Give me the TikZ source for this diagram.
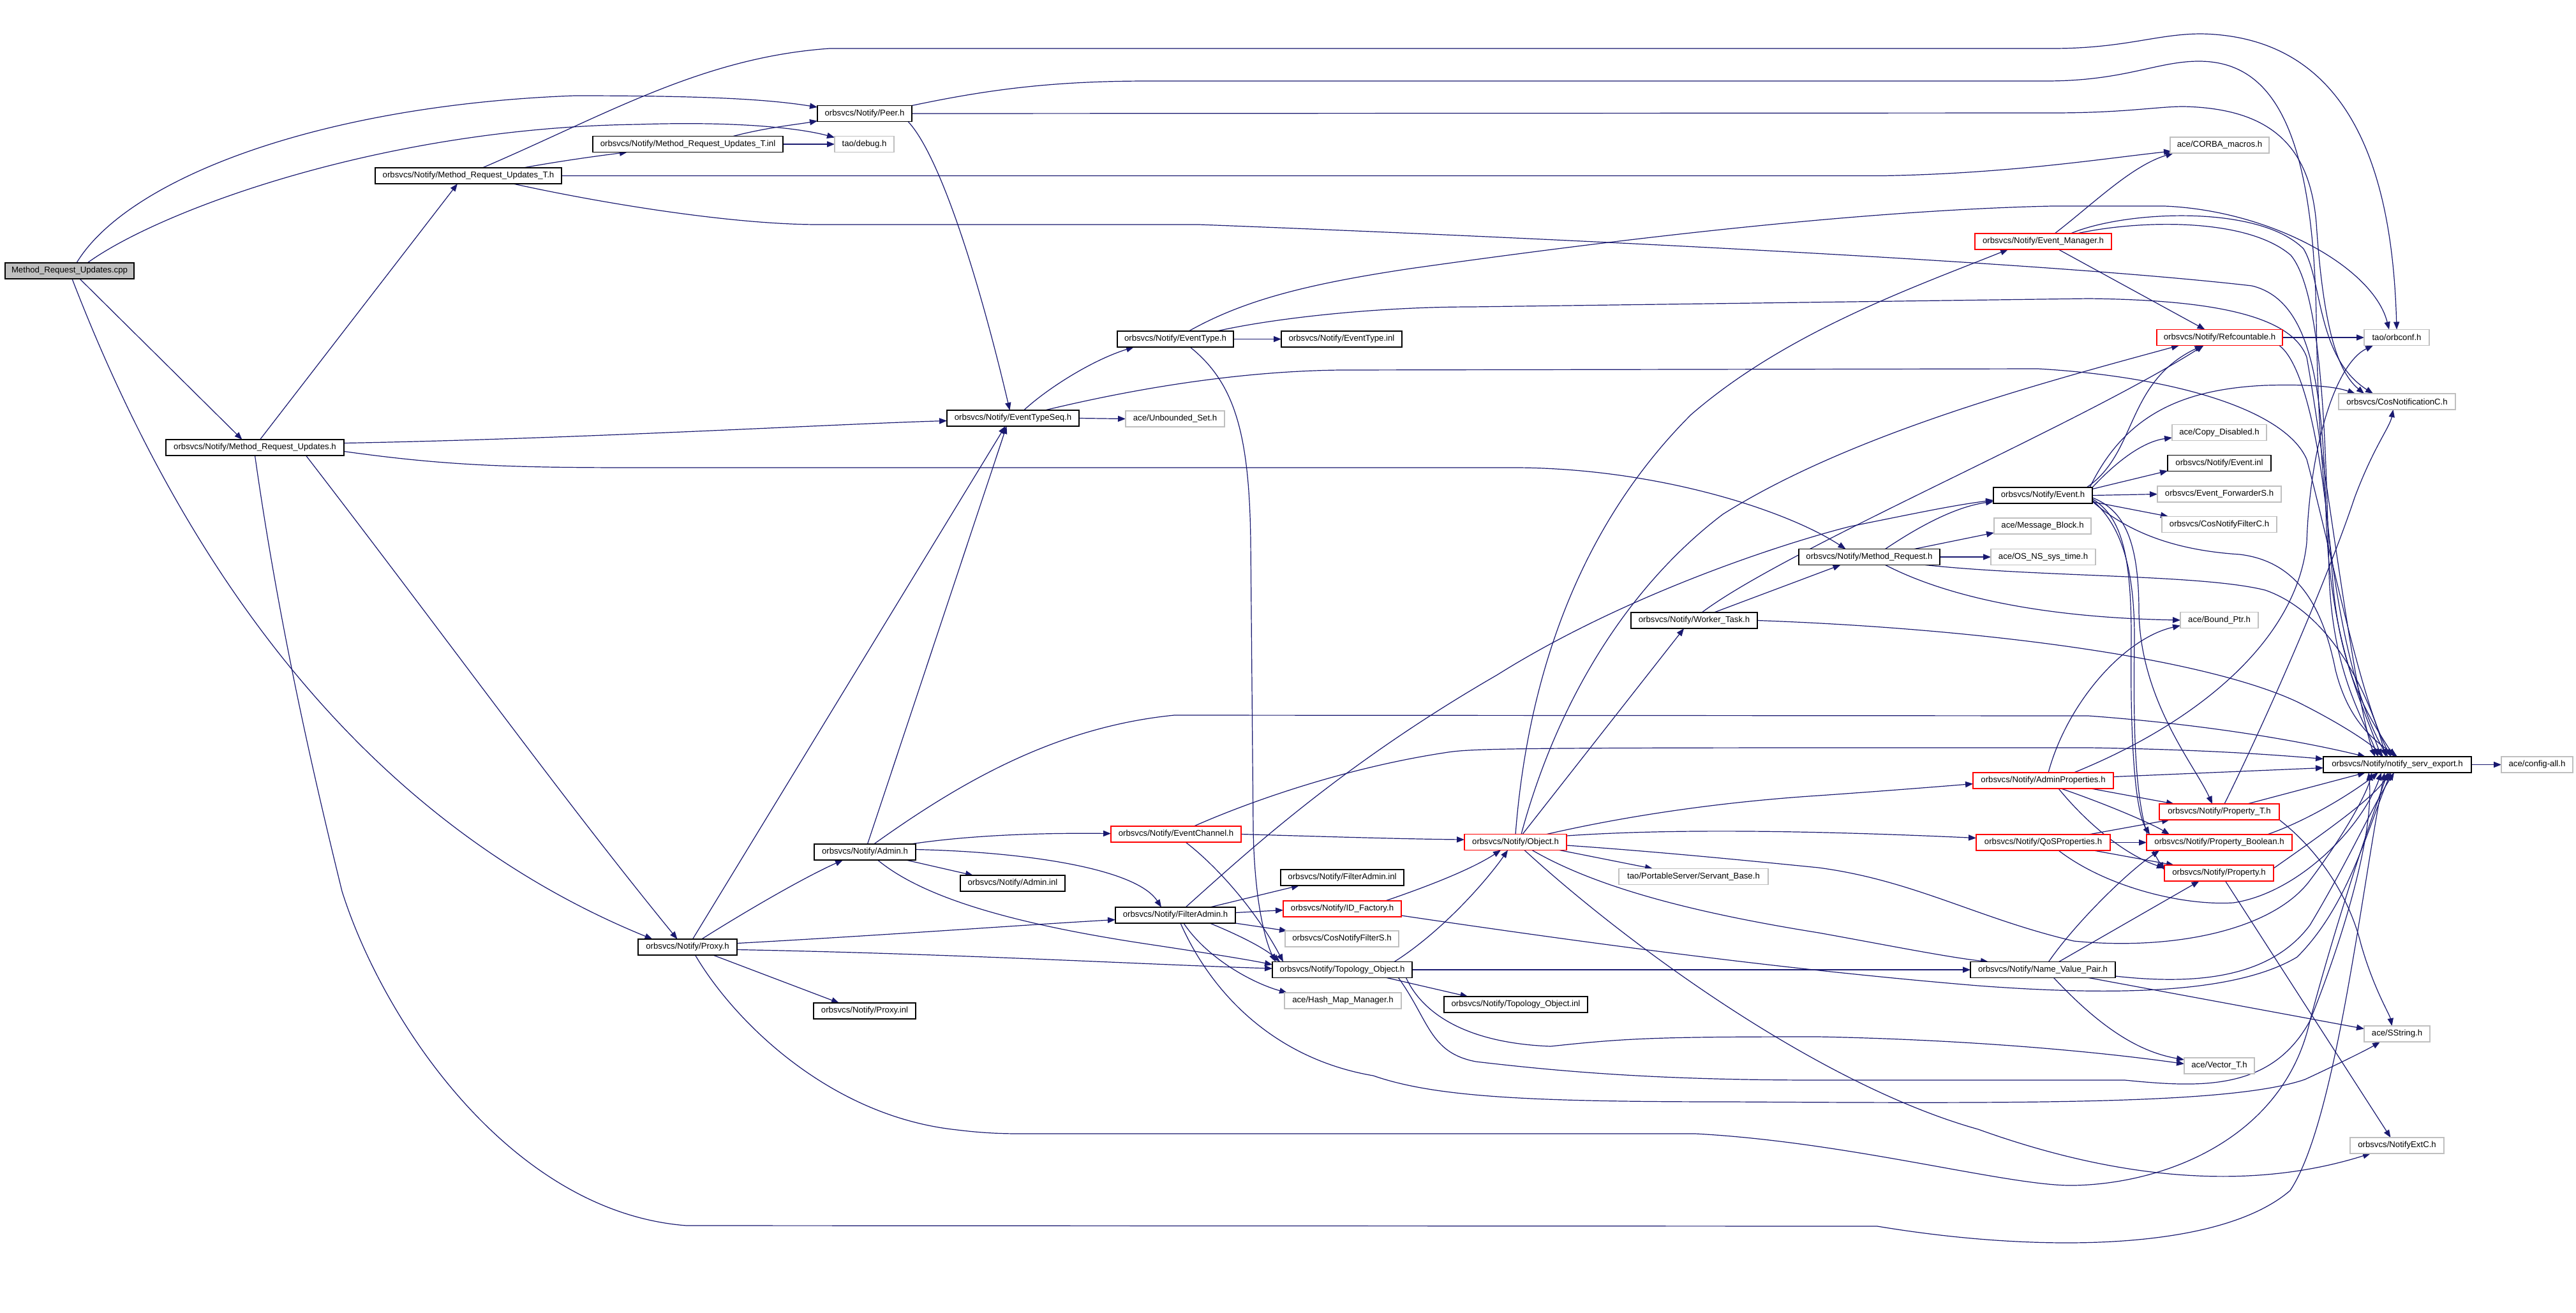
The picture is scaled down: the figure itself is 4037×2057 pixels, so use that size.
\documentclass[tikz,border=0pt]{standalone}
\usepackage{fontspec}
\newfontfamily\nfont{Liberation Sans}
\usetikzlibrary{arrows.meta,calc}
\definecolor{eblue}{RGB}{25,25,112}
\definecolor{gbord}{RGB}{191,191,191}
\definecolor{cppfill}{RGB}{191,191,191}
\pgfdeclarelayer{background}
\pgfsetlayers{background,main}
\newcommand\nd[6]{\node[#5, minimum width=#4*0.25pt] (#1) at (#2,#3) {#6};}
\tikzset{
  nb/.style={draw=black, line width=0.4pt, fill=white, minimum height=6.25pt, inner sep=0pt, outer sep=0pt, font=\nfont\fontsize{3.3}{4}\selectfont, text=black},
  ng/.style={nb, draw=gbord},
  nr/.style={nb, draw=red},
  ncpp/.style={nb, fill=cppfill},
  e/.style={draw=eblue, line width=0.3pt, -{Triangle[length=3pt,width=2.3pt]}},
}
\begin{document}
\begin{tikzpicture}[x=0.25pt,y=-0.25pt]
\useasboundingbox (0,0) rectangle (4037,2057);
% nodes
\nd{cpp}{109}{424.5}{202}{ncpp}{Method\_Request\_Updates.cpp}
\nd{MRUh}{399.5}{701.5}{279}{nb}{orbsvcs/Notify/Method\_Request\_Updates.h}
\nd{MRUTh}{734}{275.5}{292}{nb}{orbsvcs/Notify/Method\_Request\_Updates\_T.h}
\nd{MRUTinl}{1078}{226}{298}{nb}{orbsvcs/Notify/Method\_Request\_Updates\_T.inl}
\nd{Peer}{1355}{178}{148}{nb}{orbsvcs/Notify/Peer.h}
\nd{debug}{1354.5}{226}{93}{ng}{tao/debug.h}
\nd{EvTypeSeq}{1587.5}{655.5}{207}{nb}{orbsvcs/Notify/EventTypeSeq.h}
\nd{UnbSet}{1841.5}{656.5}{155}{ng}{ace/Unbounded\_Set.h}
\nd{EvType}{1842}{531.5}{182}{nb}{orbsvcs/Notify/EventType.h}
\nd{EvTypeInl}{2102.5}{531.5}{189}{nb}{orbsvcs/Notify/EventType.inl}
\nd{CORBA}{3478.5}{227.5}{155}{ng}{ace/CORBA\_macros.h}
\nd{EvMgr}{3202}{378.5}{214}{nr}{orbsvcs/Notify/Event\_Manager.h}
\nd{Refc}{3478.5}{529}{197}{nr}{orbsvcs/Notify/Refcountable.h}
\nd{orbconf}{3756}{529}{102}{ng}{tao/orbconf.h}
\nd{CosNotC}{3756.5}{629.5}{183}{ng}{orbsvcs/CosNotificationC.h}
\nd{CopyDis}{3478}{678}{148}{ng}{ace/Copy\_Disabled.h}
\nd{EventInl}{3478}{726}{162}{nb}{orbsvcs/Notify/Event.inl}
\nd{Event}{3201.5}{776.5}{155}{nb}{orbsvcs/Notify/Event.h}
\nd{EvFwdS}{3478}{774.5}{194}{ng}{orbsvcs/Event\_ForwarderS.h}
\nd{CosNFC}{3478}{822}{180}{ng}{orbsvcs/CosNotifyFilterC.h}
\nd{MsgBlk}{3201}{824.5}{152}{ng}{ace/Message\_Block.h}
\nd{MethReq}{2929.5}{873}{221}{nb}{orbsvcs/Notify/Method\_Request.h}
\nd{OSTime}{3202}{873}{164}{ng}{ace/OS\_NS\_sys\_time.h}
\nd{Worker}{2655}{972.5}{198}{nb}{orbsvcs/Notify/Worker\_Task.h}
\nd{BoundPtr}{3478}{972}{122}{ng}{ace/Bound\_Ptr.h}
\nd{Export}{3757}{1198.5}{232}{nb}{orbsvcs/Notify/notify\_serv\_export.h}
\nd{ConfigAll}{3976}{1198.5}{112}{ng}{ace/config-all.h}
\nd{AdminProps}{3202}{1223.5}{220}{nr}{orbsvcs/Notify/AdminProperties.h}
\nd{PropT}{3478}{1272.5}{188}{nr}{orbsvcs/Notify/Property\_T.h}
\nd{QoS}{3202}{1320.5}{210}{nr}{orbsvcs/Notify/QoSProperties.h}
\nd{PropBool}{3478}{1320.5}{228}{nr}{orbsvcs/Notify/Property\_Boolean.h}
\nd{Prop}{3477.5}{1368.5}{171}{nr}{orbsvcs/Notify/Property.h}
\nd{EvChan}{1843}{1307.5}{204}{nr}{orbsvcs/Notify/EventChannel.h}
\nd{Object}{2375}{1320}{160}{nr}{orbsvcs/Notify/Object.h}
\nd{Admin}{1355.5}{1335.5}{159}{nb}{orbsvcs/Notify/Admin.h}
\nd{AdminInl}{1587}{1384.5}{164}{nb}{orbsvcs/Notify/Admin.inl}
\nd{FAinl}{2103.5}{1375.5}{193}{nb}{orbsvcs/Notify/FilterAdmin.inl}
\nd{Servant}{2654}{1374}{234}{ng}{tao/PortableServer/Servant\_Base.h}
\nd{FA}{1842}{1434.5}{188}{nb}{orbsvcs/Notify/FilterAdmin.h}
\nd{IDF}{2103.5}{1424.5}{185}{nr}{orbsvcs/Notify/ID\_Factory.h}
\nd{CosNFS}{2103}{1471.5}{178}{ng}{orbsvcs/CosNotifyFilterS.h}
\nd{Proxy}{1077.5}{1484.5}{155}{nb}{orbsvcs/Notify/Proxy.h}
\nd{Topo}{2103.5}{1520}{219}{nb}{orbsvcs/Notify/Topology\_Object.h}
\nd{NVP}{3201.5}{1520}{227}{nb}{orbsvcs/Notify/Name\_Value\_Pair.h}
\nd{HashMap}{2104.5}{1568.5}{183}{ng}{ace/Hash\_Map\_Manager.h}
\nd{TopoInl}{2375.5}{1574.5}{225}{nb}{orbsvcs/Notify/Topology\_Object.inl}
\nd{ProxyInl}{1355}{1584.5}{160}{nb}{orbsvcs/Notify/Proxy.inl}
\nd{SString}{3756.5}{1620.5}{103}{ng}{ace/SString.h}
\nd{VectorT}{3478}{1670.5}{110}{ng}{ace/Vector\_T.h}
\nd{ExtC}{3756.5}{1795.5}{147}{ng}{orbsvcs/NotifyExtC.h}
\begin{pgfonlayer}{background}
\fill[white] (0,0) rectangle (4037,2057);
% cpp
\draw[e] ($(cpp.south)+(16,0)$) -- ($(MRUh.north)+(-20,0)$);
\draw[e] ($(cpp.south)+(4,0)$) .. controls (330,1000) and (650,1320) .. ($(Proxy.north)+(-55,0)$);
\draw[e] ($(cpp.north)+(11,0)$) .. controls (200,280) and (500,165) .. (900,150) .. controls (1100,150) and (1200,155) .. ($(Peer.west)+(0,-10)$);
\draw[e] ($(cpp.north)+(28,0)$) .. controls (250,330) and (600,200) .. (1000,195) .. controls (1150,190) and (1250,200) .. ($(debug.north west)+(0,2)$);
% MRUh
\draw[e] ($(MRUh.north)+(8,0)$) -- ($(MRUTh.south)+(-17,0)$);
\draw[e] ($(MRUh.east)+(0,-7)$) .. controls (900,688) and (1300,665) .. ($(EvTypeSeq.west)+(0,4)$);
\draw[e] ($(MRUh.east)+(0,6)$) .. controls (700,730) and (800,733) .. (1000,733) -- (2380,733) .. controls (2600,735) and (2800,800) .. ($(MethReq.north)+(-37,0)$);
\draw[e] ($(MRUh.south)+(80,0)$) .. controls (700,1000) and (880,1250) .. ($(Proxy.north)+(-16,0)$);
\draw[e] (MRUh.south) .. controls (440,1000) and (500,1250) .. (536,1397) .. controls (600,1600) and (800,1900) .. (1076,1921) -- (2942,1922) .. controls (3200,1965) and (3480,1960) .. (3589,1866) .. controls (3660,1760) and (3700,1400) .. ($(Export.south)+(-20,0)$);
% MRUTh
\draw[e] ($(MRUTh.north)+(86,0)$) .. controls (880,252) and (940,244) .. ($(MRUTinl.south)+(-95,0)$);
\draw[e] ($(MRUTh.north)+(22,0)$) .. controls (950,180) and (1100,90) .. (1300,76) -- (3216,76) .. controls (3330,76) and (3380,53) .. (3450,53) .. controls (3700,58) and (3750,300) .. (orbconf.north);
\draw[e] (MRUTh.east) -- (2951,275.5) .. controls (3150,272) and (3300,248) .. ($(CORBA.south west)+(2,-3)$);
\draw[e] ($(MRUTh.south east)+(-76,0)$) .. controls (950,320) and (1150,352) .. (1283,352) -- (1879,352) .. controls (2400,372) and (3200,410) .. (3529,448) .. controls (3620,470) and (3640,600) .. (3645,800) .. controls (3650,1000) and (3700,1100) .. ($(Export.north)+(-25,0)$);
% MRUTinl
\draw[e] ($(MRUTinl.north)+(71,0)$) .. controls (1200,200) and (1250,195) .. ($(Peer.south west)+(0,-1)$);
\draw[e] (MRUTinl.east) -- (debug.west);
% Peer
\draw[e] ($(Peer.south east)+(-6,0)$) .. controls (1470,240) and (1530,420) .. ($(EvTypeSeq.north)+(-5,0)$);
\draw[e] (Peer.north east) .. controls (1550,140) and (1650,127) .. (1800,127) -- (3206,127) .. controls (3330,127) and (3380,96) .. (3446,96) .. controls (3560,96) and (3625,200) .. (3630,500) .. controls (3635,900) and (3690,1100) .. ($(Export.north)+(-15,0)$);
\draw[e] (Peer.east) -- (3216,177) .. controls (3330,177) and (3380,167) .. (3422,167) .. controls (3560,170) and (3620,230) .. (3630,350) .. controls (3640,500) and (3660,580) .. ($(CosNotC.north west)+(40,0)$);
% EvTypeSeq
\draw[e] (EvTypeSeq.east) -- (UnbSet.west);
\draw[e] ($(EvTypeSeq.north)+(17,0)$) .. controls (1640,610) and (1710,565) .. ($(EvType.south)+(-65,0)$);
\draw[e] ($(EvTypeSeq.north)+(50,0)$) .. controls (1766,612) and (1932,582) .. (2100,580) -- (3194,578) .. controls (3400,590) and (3580,640) .. (3615,720) .. controls (3650,850) and (3700,1100) .. ($(Export.north)+(-10,0)$);
% EvType
\draw[e] (EvType.east) -- (EvTypeInl.west);
\draw[e] ($(EvType.south)+(23,0)$) .. controls (1935,600) and (1958,680) .. (1960,850) -- (1964,1300) .. controls (1966,1420) and (1985,1480) .. ($(Topo.north west)+(5,0)$);
\draw[e] ($(EvType.north)+(21,0)$) .. controls (1950,470) and (2050,445) .. (2210,421) .. controls (2500,380) and (2900,330) .. (3216,323) -- (3392,323) .. controls (3560,330) and (3720,420) .. ($(orbconf.north)+(-12,0)$);
\draw[e] ($(EvType.north)+(65,0)$) .. controls (1990,500) and (2150,481) .. (2306,481) -- (3273,468) .. controls (3450,470) and (3590,490) .. (3615,560) .. controls (3640,700) and (3690,1100) .. ($(Export.north)+(-35,0)$);
% EvMgr
\draw[e] ($(EvMgr.north)+(18,0)$) .. controls (3280,320) and (3340,260) .. ($(CORBA.south west)+(5,0)$);
\draw[e] ($(EvMgr.south)+(24,0)$) -- ($(Refc.north)+(-23,0)$);
\draw[e] ($(EvMgr.north)+(43,0)$) .. controls (3330,330) and (3540,320) .. (3610,390) .. controls (3640,440) and (3630,560) .. ($(CosNotC.north west)+(54,0)$);
\draw[e] ($(EvMgr.north)+(53,0)$) .. controls (3350,345) and (3520,340) .. (3590,400) .. controls (3640,460) and (3645,700) .. (3650,900) .. controls (3655,1050) and (3700,1120) .. ($(Export.north)+(-30,0)$);
% Refc
\draw[e] (Refc.east) -- (orbconf.west);
\draw[e] ($(Refc.south east)+(-5,0)$) .. controls (3610,570) and (3640,700) .. (3655,900) .. controls (3665,1050) and (3710,1120) .. ($(Export.north)+(-5,0)$);
% Event
\draw[e] ($(Event.north east)+(-9,0)$) .. controls (3350,710) and (3330,600) .. ($(Refc.south)+(-27,0)$);
\draw[e] ($(Event.north east)+(-4,0)$) .. controls (3330,650) and (3420,610) .. (3550,604) .. controls (3620,602) and (3660,606) .. ($(CosNotC.north west)+(26,0)$);
\draw[e] (Event.north east) .. controls (3320,720) and (3360,692) .. ($(CopyDis.west)+(0,8)$);
\draw[e] ($(Event.east)+(0,-10)$) -- ($(EventInl.west)+(0,12)$);
\draw[e] (Event.east) -- (EvFwdS.west);
\draw[e] ($(Event.east)+(0,10)$) -- ($(CosNFC.north west)+(10,0)$);
\draw[e] ($(Event.south east)+(0,-9)$) .. controls (3330,800) and (3352,850) .. (3352,960) .. controls (3355,1100) and (3440,1200) .. ($(PropT.north)+(-11,0)$);
\draw[e] ($(Event.south east)+(0,-7)$) .. controls (3325,810) and (3340,870) .. (3340,1000) .. controls (3338,1150) and (3345,1270) .. ($(PropBool.north west)+(5,0)$);
\draw[e] ($(Event.south east)+(0,-5)$) .. controls (3320,820) and (3345,880) .. (3345,1000) .. controls (3342,1200) and (3350,1300) .. ($(Prop.west)+(0,-5)$);
\draw[e] ($(Event.south east)+(0,-3)$) .. controls (3330,830) and (3400,862) .. (3510,869) .. controls (3600,880) and (3640,950) .. (3660,1050) .. controls (3680,1130) and (3720,1160) .. (Export.north);
% MethReq
\draw[e] ($(MethReq.north)+(25,0)$) .. controls (3000,830) and (3060,795) .. ($(Event.south west)+(0,-3)$);
\draw[e] ($(MethReq.north east)+(-40,0)$) -- ($(MsgBlk.south west)+(0,-2)$);
\draw[e] (MethReq.east) -- (OSTime.west);
\draw[e] ($(MethReq.south)+(25,0)$) .. controls (3050,935) and (3200,968) .. (BoundPtr.west);
\draw[e] ($(MethReq.south east)+(-23,0)$) .. controls (3200,905) and (3450,900) .. (3550,925) .. controls (3650,960) and (3710,1080) .. ($(Export.north)+(-18,0)$);
% Worker
\draw[e] ($(Worker.north)+(31,0)$) -- ($(MethReq.south)+(-45,0)$);
\draw[e] ($(Worker.north)+(12,0)$) .. controls (2800,860) and (3250,670) .. ($(Refc.south)+(-25,0)$);
\draw[e] (Worker.east) .. controls (3100,985) and (3450,1030) .. (3600,1100) .. controls (3680,1140) and (3720,1170) .. ($(Export.north)+(-22,0)$);
% Export
\draw[e] (Export.east) -- (ConfigAll.west);
% AdminProps
\draw[e] ($(AdminProps.north)+(8,0)$) .. controls (3240,1100) and (3330,1000) .. ($(BoundPtr.south west)+(0,-4)$);
\draw[e] ($(AdminProps.north)+(48,0)$) .. controls (3450,1130) and (3600,1000) .. (3615,850) .. controls (3620,700) and (3660,570) .. ($(orbconf.south west)+(14,0)$);
\draw[e] ($(AdminProps.east)+(0,-6)$) -- ($(Export.west)+(0,5)$);
\draw[e] ($(AdminProps.south east)+(-35,0)$) -- ($(PropT.north west)+(23,0)$);
\draw[e] ($(AdminProps.south)+(28,0)$) .. controls (3300,1260) and (3370,1290) .. ($(PropBool.north)+(-78,0)$);
\draw[e] ($(AdminProps.south)+(24,0)$) .. controls (3270,1290) and (3330,1340) .. ($(Prop.west)+(0,-8)$);
% QoS
\draw[e] (QoS.east) -- (PropBool.west);
\draw[e] ($(QoS.north east)+(-34,0)$) -- ($(PropT.south west)+(16,0)$);
\draw[e] ($(QoS.south east)+(-26,0)$) -- ($(Prop.north west)+(15,0)$);
\draw[e] ($(QoS.south)+(24,0)$) .. controls (3300,1390) and (3420,1420) .. (3500,1415) .. controls (3600,1400) and (3700,1300) .. ($(Export.south)+(-25,0)$);
% PropT
\draw[e] ($(PropT.north east)+(-50,0)$) -- ($(Export.south)+(-50,0)$);
\draw[e] ($(PropT.north)+(8,0)$) .. controls (3560,1110) and (3650,900) .. (3690,780) .. controls (3720,700) and (3745,670) .. ($(CosNotC.south)+(-6,0)$);
\draw[e] (PropT.south east) .. controls (3630,1330) and (3680,1400) .. (3700,1480) .. controls (3720,1550) and (3745,1590) .. ($(SString.north)+(-8,0)$);
% PropBool, Prop
\draw[e] ($(PropBool.north east)+(-39,0)$) .. controls (3620,1285) and (3690,1240) .. ($(Export.south)+(-30,0)$);
\draw[e] ($(Prop.north east)+(0,5)$) .. controls (3650,1300) and (3720,1250) .. ($(Export.south)+(-12,0)$);
\draw[e] ($(Prop.south)+(10,0)$) -- ($(ExtC.north)+(-10,0)$);
% NVP
\draw[e] ($(NVP.north)+(25,0)$) -- ($(Prop.south)+(-31,0)$);
\draw[e] ($(NVP.north)+(9,0)$) .. controls (3250,1450) and (3330,1370) .. ($(PropBool.south west)+(20,0)$);
\draw[e] ($(NVP.south east)+(-42,0)$) -- ($(SString.west)+(0,-8)$);
\draw[e] ($(NVP.south)+(17,0)$) .. controls (3300,1620) and (3360,1650) .. ($(VectorT.north west)+(0,3)$);
\draw[e] ($(NVP.east)+(0,10)$) .. controls (3450,1545) and (3560,1530) .. (3620,1450) .. controls (3680,1350) and (3720,1260) .. ($(Export.south)+(-5,0)$);
% Object
\draw[e] (Object.north) .. controls (2395,1050) and (2480,820) .. (2650,650) .. controls (2800,520) and (3000,450) .. ($(EvMgr.south west)+(52,0)$);
\draw[e] ($(Object.north)+(9,0)$) .. controls (2440,1100) and (2550,920) .. (2700,806) .. controls (2900,680) and (3200,600) .. ($(Refc.south west)+(35,0)$);
\draw[e] ($(Object.north)+(11,0)$) -- ($(Worker.south)+(-16,0)$);
\draw[e] ($(Object.north east)+(-31,0)$) .. controls (2500,1290) and (2650,1260) .. (2850,1247) .. controls (2950,1240) and (3050,1232) .. ($(AdminProps.west)+(0,5)$);
\draw[e] ($(Object.east)+(0,-10)$) .. controls (2600,1300) and (2800,1300) .. ($(QoS.west)+(0,-7)$);
\draw[e] ($(Object.south east)+(-11,0)$) -- ($(Servant.north west)+(53,0)$);
\draw[e] ($(Object.south)+(26,0)$) .. controls (2500,1390) and (2650,1430) .. (2850,1462) .. controls (2950,1480) and (3050,1500) .. ($(NVP.north west)+(28,0)$);
\draw[e] ($(Object.south)+(14,0)$) .. controls (2550,1480) and (2850,1700) .. (3100,1770) .. controls (3350,1860) and (3550,1860) .. ($(ExtC.south west)+(32,0)$);
\draw[e] ($(Object.east)+(0,5)$) .. controls (2600,1335) and (2750,1350) .. (2850,1360) .. controls (3000,1380) and (3100,1440) .. (3250,1475) .. controls (3400,1490) and (3560,1460) .. (3620,1380) .. controls (3680,1300) and (3710,1240) .. ($(Export.south)+(-40,0)$);
% Topo
\draw[e] ($(Topo.north east)+(-28,0)$) .. controls (2260,1460) and (2330,1380) .. ($(Object.south)+(-12,0)$);
\draw[e] (Topo.east) -- (NVP.west);
\draw[e] ($(Topo.south east)+(-40,0)$) -- ($(TopoInl.north)+(-75,0)$);
\draw[e] ($(Topo.south)+(100,0)$) .. controls (2230,1590) and (2300,1635) .. (2430,1640) .. controls (2550,1627) and (2600,1625) .. (2850,1625) .. controls (3100,1630) and (3300,1650) .. ($(VectorT.west)+(0,-3)$);
\draw[e] ($(Topo.south)+(88,0)$) .. controls (2240,1600) and (2240,1650) .. (2313,1664) .. controls (2450,1680) and (2600,1693) .. (2850,1693) -- (3330,1693) .. controls (3450,1705) and (3560,1710) .. (3620,1600) .. controls (3680,1450) and (3720,1300) .. ($(Export.south)+(-45,0)$);
% FA
\draw[e] ($(FA.north east)+(-40,0)$) -- ($(FAinl.south west)+(29,0)$);
\draw[e] ($(FA.east)+(0,-4)$) -- ($(IDF.west)+(0,2)$);
\draw[e] (FA.south east) -- ($(CosNFS.north west)+(3,0)$);
\draw[e] ($(FA.south east)+(-40,0)$) .. controls (1940,1465) and (1980,1485) .. ($(Topo.north west)+(12,0)$);
\draw[e] ($(FA.south)+(13,0)$) .. controls (1890,1500) and (1960,1540) .. ($(HashMap.north west)+(4,0)$);
\draw[e] ($(FA.south)+(8,0)$) .. controls (1900,1560) and (2000,1660) .. (2152,1686) .. controls (2250,1720) and (2400,1727) .. (2715,1727) .. controls (3200,1730) and (3500,1730) .. (3612,1692) .. controls (3670,1665) and (3710,1645) .. ($(SString.south west)+(25,0)$);
\draw[e] ($(FA.north)+(16,0)$) .. controls (1950,1340) and (2100,1200) .. (2346,1058) .. controls (2550,930) and (2800,850) .. (2900,825) .. controls (3000,805) and (3060,792) .. ($(Event.south west)+(0,-5)$);
% EvChan
\draw[e] (EvChan.east) .. controls (2100,1312) and (2200,1315) .. ($(Object.west)+(0,-4)$);
\draw[e] ($(EvChan.south)+(15,0)$) .. controls (1910,1360) and (1970,1430) .. ($(Topo.north west)+(17,0)$);
\draw[e] ($(EvChan.north)+(28,0)$) .. controls (1950,1260) and (2100,1205) .. (2263,1180) .. controls (2300,1174) and (2330,1172) .. (2900,1172) -- (3276,1172) .. controls (3450,1175) and (3550,1182) .. ($(Export.west)+(0,-9)$);
% Admin
\draw[e] ($(Admin.north east)+(-8,0)$) .. controls (1500,1312) and (1600,1305) .. ($(EvChan.west)+(0,-1)$);
\draw[e] ($(Admin.south east)+(-15,0)$) -- ($(AdminInl.north west)+(20,0)$);
\draw[e] ($(Admin.east)+(0,-4)$) .. controls (1600,1335) and (1780,1360) .. ($(FA.north)+(-22,0)$);
\draw[e] ($(Admin.south)+(20,0)$) .. controls (1450,1410) and (1600,1450) .. (1800,1480) .. controls (1900,1495) and (1960,1505) .. ($(Topo.west)+(0,-8)$);
\draw[e] ($(Admin.north)+(4,0)$) -- ($(EvTypeSeq.south)+(-10,0)$);
\draw[e] ($(Admin.north)+(14,0)$) .. controls (1500,1230) and (1650,1140) .. (1840,1121) -- (3273,1122) .. controls (3450,1135) and (3600,1160) .. ($(Export.north)+(-50,0)$);
% Proxy
\draw[e] ($(Proxy.north)+(22,0)$) .. controls (1150,1440) and (1250,1380) .. ($(Admin.south west)+(45,0)$);
\draw[e] ($(Proxy.south)+(40,0)$) -- ($(ProxyInl.north west)+(40,0)$);
\draw[e] ($(Proxy.east)+(0,-6)$) .. controls (1400,1465) and (1600,1450) .. ($(FA.west)+(0,7)$);
\draw[e] ($(Proxy.east)+(0,4)$) .. controls (1500,1495) and (1800,1512) .. ($(Topo.west)+(0,-2)$);
\draw[e] ($(Proxy.north)+(8,0)$) -- ($(EvTypeSeq.south)+(-12,0)$);
\draw[e] ($(Proxy.south)+(12,0)$) .. controls (1150,1600) and (1300,1750) .. (1500,1771) .. controls (1540,1776) and (1570,1777) .. (1600,1777) -- (2657,1777) .. controls (2900,1790) and (3150,1860) .. (3250,1858) .. controls (3400,1855) and (3580,1780) .. (3620,1600) .. controls (3660,1450) and (3710,1300) .. ($(Export.south)+(-15,0)$);
% IDF
\draw[e] ($(IDF.north east)+(-25,0)$) .. controls (2250,1385) and (2310,1360) .. ($(Object.south)+(-23,0)$);
\draw[e] ($(IDF.south east)+(0,-2)$) .. controls (2500,1480) and (2800,1520) .. (3100,1545) .. controls (3300,1560) and (3500,1560) .. (3600,1500) .. controls (3680,1420) and (3710,1300) .. ($(Export.south)+(-10,0)$);
\end{pgfonlayer}
\end{tikzpicture}
\end{document}
